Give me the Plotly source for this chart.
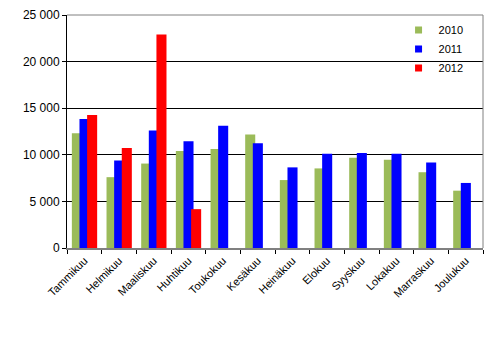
import plotly.graph_objects as go

months = ["Tammikuu", "Helmikuu", "Maaliskuu", "Huhtikuu", "Toukokuu", "Kesäkuu",
          "Heinäkuu", "Elokuu", "Syyskuu", "Lokakuu", "Marraskuu", "Joulukuu"]
v2010 = [12300, 7600, 9060, 10420, 10620, 12190, 7290, 8540, 9690, 9480, 8130, 6150]
v2011 = [13850, 9380, 12600, 11460, 13120, 11250, 8650, 10100, 10200, 10100, 9170, 6980]
v2012 = [14270, 10730, 22900, 4170]
ytick_vals = [0, 5000, 10000, 15000, 20000, 25000]
ytick_text = ["0", "5 000", "10 000", "15 000", "20 000", "25 000"]

font = "Arial, Liberation Sans, sans-serif"
W = 0.29
series = [("2010", v2010, months, "#9BBB59", -0.36),
          ("2011", v2011, months, "#0000FF", -0.14),
          ("2012", v2012, months[:len(v2012)], "#FF0000", 0.08)]
fig = go.Figure()
for name, vals, cats, col, off in series:
    fig.add_trace(go.Bar(x=cats, y=vals, name=name, marker_color=col,
                         width=W, offset=off, marker_line_width=0, showlegend=False))
for name, vals, cats, col, off in series:
    fig.add_trace(go.Scatter(x=[None], y=[None], mode="markers", name=name,
                             marker=dict(symbol="square", size=7, color=col)))

fig.update_layout(
    width=498, height=340,
    margin=dict(l=67, r=15, t=8, b=92),
    barmode="overlay",
    plot_bgcolor="white", paper_bgcolor="white",
    font=dict(family=font, size=12, color="black"),
    legend=dict(x=0.797, y=0.998, xanchor="left", yanchor="top",
                bgcolor="rgba(0,0,0,0)", font=dict(size=11), tracegroupgap=0),
    xaxis=dict(type="category", tickangle=-45, tickson="boundaries",
               ticks="outside", ticklen=4, tickcolor="black",
               showline=True, linecolor="#808080", linewidth=2,
               showgrid=False, tickfont=dict(size=11), range=[-0.5, 11.5]),
    yaxis=dict(range=[0, 25000], tickvals=ytick_vals, ticktext=ytick_text,
               showgrid=True, gridcolor="black", gridwidth=1,
               showline=True, linecolor="black", linewidth=1,
               ticks="outside", ticklen=4, tickcolor="black",
               zeroline=False, tickfont=dict(size=12)),
    shapes=[
        dict(type="rect", xref="paper", yref="y", x0=0.856, x1=0.964, y0=19000, y1=21000,
             fillcolor="white", line=dict(width=0), layer="between"),
        dict(type="line", xref="paper", yref="paper", x0=0, x1=1, y0=1, y1=1,
             line=dict(color="#808080", width=1), layer="above"),
        dict(type="line", xref="paper", yref="paper", x0=1, x1=1, y0=0, y1=1,
             line=dict(color="#808080", width=1), layer="above"),
    ],
)
fig.write_html("out.html")
